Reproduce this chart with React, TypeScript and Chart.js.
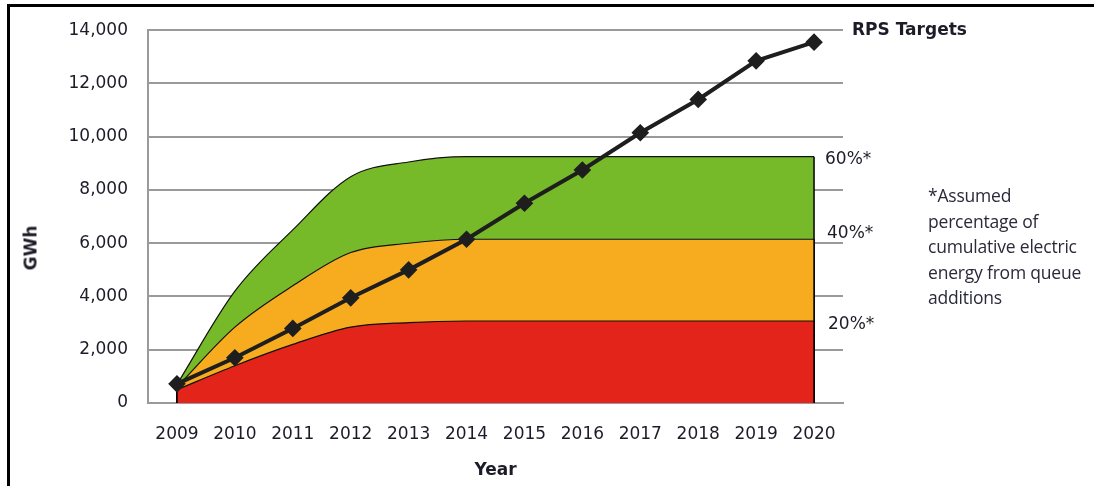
import React, { useEffect, useRef } from "react";
import { Chart, registerables } from "chart.js";

Chart.register(...registerables);

const years = ["2009", "2010", "2011", "2012", "2013", "2014", "2015", "2016", "2017", "2018", "2019", "2020"];
const rpsTargets = [720, 1700, 2800, 3950, 5000, 6150, 7500, 8750, 10150, 11400, 12850, 13550];
const share20 = [500, 1400, 2200, 2850, 3020, 3080, 3080, 3080, 3080, 3080, 3080, 3080];
const share40 = [600, 2850, 4400, 5650, 6000, 6150, 6150, 6150, 6150, 6150, 6150, 6150];
const share60 = [700, 4200, 6500, 8500, 9050, 9250, 9250, 9250, 9250, 9250, 9250, 9250];
const yTicks = [0, 2000, 4000, 6000, 8000, 10000, 12000, 14000];
const footnoteLines = ["*Assumed", "percentage of", "cumulative electric", "energy from queue", "additions"];

const FONT = "DejaVu Sans";

const edgePlugin = {
  id: "areaEdges",
  afterDatasetDraw(chart: any, args: any) {
    const ds = chart.data.datasets[args.index];
    if (!ds.fill) return;
    const pts = args.meta.data;
    if (!pts.length) return;
    const y0 = chart.scales.y.getPixelForValue(0);
    const ctx = chart.ctx;
    ctx.save();
    ctx.strokeStyle = "#000";
    ctx.lineWidth = 1.5;
    [pts[0], pts[pts.length - 1]].forEach((p: any) => {
      ctx.beginPath();
      ctx.moveTo(p.x, p.y);
      ctx.lineTo(p.x, y0);
      ctx.stroke();
    });
    ctx.restore();
  },
};

export default function App() {
  const ref = useRef<HTMLCanvasElement | null>(null);
  useEffect(() => {
    if (!ref.current) return;
    const areaCommon = {
      type: "line" as const,
      borderColor: "#111",
      borderWidth: 1.2,
      pointRadius: 0,
      fill: "origin",
      cubicInterpolationMode: "monotone" as const,
    };
    const chart = new Chart(ref.current, {
      type: "line",
      data: {
        labels: years,
        datasets: [
          {
            label: "RPS Targets",
            data: rpsTargets,
            borderColor: "#1e1e1e",
            backgroundColor: "#1e1e1e",
            borderWidth: 4,
            pointStyle: "rectRot",
            pointRadius: 6,
            pointBackgroundColor: "#1e1e1e",
            pointBorderColor: "#1e1e1e",
            fill: false,
            tension: 0,
            order: 0,
          },
          { ...areaCommon, label: "20%*", data: share20, backgroundColor: "#e2241b", order: 1 },
          { ...areaCommon, label: "40%*", data: share40, backgroundColor: "#f7ac1f", order: 2 },
          { ...areaCommon, label: "60%*", data: share60, backgroundColor: "#76ba29", order: 3 },
        ] as any,
      },
      options: {
        animation: false,
        responsive: false,
        layout: { padding: { left: 0, top: 27, right: 251, bottom: 0 } },
        plugins: {
          legend: { display: false },
          tooltip: { enabled: false },
        },
        scales: {
          x: {
            type: "category",
            offset: true,
            grid: { display: false, drawTicks: false },
            border: { display: true, color: "#9a9a9a", width: 2 },
            ticks: {
              color: "#1c1c28",
              padding: 21,
              font: { family: FONT, size: 17 },
              maxRotation: 0,
              autoSkip: false,
            },
            title: {
              display: true,
              text: "Year",
              color: "#1c1c28",
              font: { family: FONT, size: 17, weight: "bold" },
              padding: { top: 0, bottom: 5 },
            },
            afterFit: (s: any) => {
              s.height = 83;
            },
          },
          y: {
            min: 0,
            max: 14000,
            afterBuildTicks: (s: any) => {
              s.ticks = yTicks.map((v) => ({ value: v }));
            },
            grid: { color: "#9a9a9a", lineWidth: 2, drawTicks: false },
            border: { display: true, color: "#9a9a9a", width: 2 },
            ticks: {
              color: "#1c1c28",
              padding: 20,
              font: { family: FONT, size: 17 },
              callback: (v: any) => Number(v).toLocaleString("en-US"),
            },
            afterFit: (s: any) => {
              s.width = 148;
            },
          },
        },
      },
      plugins: [edgePlugin],
    });
    return () => chart.destroy();
  }, []);

  const txt: React.CSSProperties = {
    position: "absolute",
    fontFamily: FONT,
    color: "#1c1c28",
    whiteSpace: "nowrap",
    lineHeight: "1",
    fontSize: 17,
  };

  return (
    <div style={{ position: "fixed", left: 0, top: 0, width: 1094, height: 486, overflow: "hidden", background: "#fff" }}>
      <canvas ref={ref} width={1094} height={486} style={{ position: "absolute", left: 0, top: 0 }} />
      <div style={{ position: "absolute", left: 7, top: 4, width: 1087, height: 3, background: "#000" }} />
      <div style={{ position: "absolute", left: 7, top: 4, width: 3, height: 482, background: "#000" }} />
      <div style={{ ...txt, left: 31, top: 248, fontWeight: "bold", transform: "translate(-50%, -50%) rotate(-90deg)" }}>GWh</div>
      <div style={{ ...txt, left: 852, top: 21, fontWeight: "bold" }}>RPS Targets</div>
      <div style={{ ...txt, left: 825, top: 150 }}>60%*</div>
      <div style={{ ...txt, left: 827, top: 224 }}>40%*</div>
      <div style={{ ...txt, left: 828, top: 315 }}>20%*</div>
      <div style={{ position: "absolute", left: 928, top: 183, fontFamily: "Open Sans, sans-serif", fontSize: 17.5, color: "#2a2a3a", lineHeight: "25.5px", letterSpacing: "-0.2px" }}>
        {footnoteLines.map((l, i) => (
          <div key={i} style={{ whiteSpace: "nowrap" }}>{l}</div>
        ))}
      </div>
    </div>
  );
}
